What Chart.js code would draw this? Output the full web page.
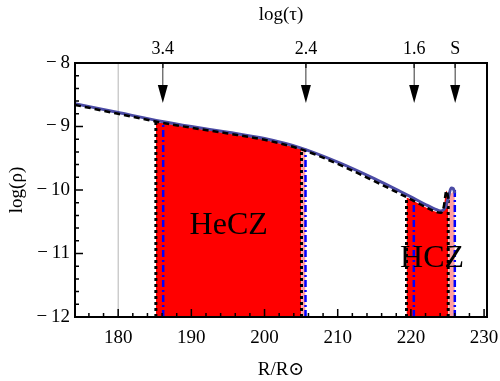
<!DOCTYPE html>
<html>
<head>
<meta charset="utf-8">
<script src="https://cdn.jsdelivr.net/npm/chart.js@4/dist/chart.umd.min.js"></script>
<style>
  html, body { margin: 0; padding: 0; background: #fff; }
</style>
</head>
<body>
<canvas id="chart" width="500" height="381"></canvas>
<script>
// axis ticks
const xTicks = [180, 190, 200, 210, 220, 230];
const yTicks = [-12, -11, -10, -9, -8];
const tauPos = [186.1, 205.65, 220.45, 226.05];
const tauLabels = ['3.4', '2.4', '1.6', 'S'];

// density profile (blue = solid, black = dashed)
const blueX = [174.1, 180, 186, 190, 195, 200, 205, 210, 215, 218.5, 220.2, 222, 223.3, 224.1, 224.7, 225.1, 225.5, 225.8, 226.0];
const blueY = [-8.64, -8.78, -8.92, -9.00, -9.09, -9.19, -9.34, -9.56, -9.82, -10.02, -10.12, -10.23, -10.30, -10.33, -10.27, -10.13, -9.97, -9.98, -10.05];
const dashX = [174.1, 180, 186, 190, 195, 200, 205, 210, 215, 218.5, 220.2, 222, 223.3, 224.1, 224.5, 224.85, 225.15];
const dashY = [-8.66, -8.80, -8.94, -9.02, -9.11, -9.21, -9.36, -9.59, -9.86, -10.06, -10.16, -10.27, -10.34, -10.36, -10.26, -10.01, -10.15];

// convective zones (red areas)
const heczX = [185.15, 190, 195, 200, 205.05];
const heczTop = [-8.93, -9.02, -9.11, -9.21, -9.36];
const hczX = [219.4, 220.2, 222, 223.3, 224.1, 224.5, 224.85, 225.1];
const hczTop = [-10.12, -10.16, -10.27, -10.34, -10.36, -10.26, -10.01, -10.12];
const edgeX = [[205.05, 205.6], [225.1, 226.0]];
const edgeTop = [[-9.36, -9.35], [-10.1, -10.0]];

// boundaries
const dotX = [185.15, 205.05, 219.4, 225.1];
const dotTop = [-8.92, -9.37, -10.12, -10.05];
const dashDotX = [186.15, 205.6, 220.4, 226.0];
const dashDotTop = [-8.93, -9.35, -10.14, -9.97];
const refLineX = 180;

const zoneLabels = [
  { text: 'HeCZ', x: 195.1, y: -10.70 },
  { text: 'HCZ', x: 222.9, y: -11.21 },
];

const FONT = "'Liberation Serif', 'DejaVu Serif', serif";
Chart.defaults.font.family = FONT;
Chart.defaults.color = '#000';

const pts = (xs, ys) => xs.map((x, i) => ({ x, y: ys[i] }));

const datasets = [
  {
    data: pts(dashX, dashY),
    borderColor: '#000', borderWidth: 2.5, borderDash: [6, 4],
    cubicInterpolationMode: 'monotone', order: 0,
  },
  {
    data: pts(blueX, blueY),
    borderColor: 'rgb(75, 75, 165)', borderWidth: 3,
    cubicInterpolationMode: 'monotone', order: 1,
  },
  {
    data: pts(heczX, heczTop),
    borderWidth: 0, borderColor: 'transparent', backgroundColor: '#ff0000',
    fill: 'start', cubicInterpolationMode: 'monotone', order: 10,
  },
  {
    data: pts(hczX, hczTop),
    borderWidth: 0, borderColor: 'transparent', backgroundColor: '#ff0000',
    fill: 'start', cubicInterpolationMode: 'monotone', order: 10,
  },
];

edgeX.forEach((xs, i) => {
  datasets.push({
    data: pts(xs, edgeTop[i]),
    borderWidth: 0, borderColor: 'transparent', backgroundColor: 'rgb(255, 160, 160)',
    fill: 'start', order: 11,
  });
});

datasets.push({
  data: [{ x: refLineX, y: -12 }, { x: refLineX, y: -8 }],
  borderColor: '#b4b4b4', borderWidth: 1, order: 12,
});

dotX.forEach((x, i) => {
  datasets.push({
    data: [{ x, y: -12 }, { x, y: dotTop[i] }],
    borderColor: '#000', borderWidth: 3, borderDash: [3, 3], order: 3,
  });
});

dashDotX.forEach((x, i) => {
  datasets.push({
    data: [{ x, y: -12 }, { x, y: dashDotTop[i] }],
    borderColor: '#0000ff', borderWidth: 2.5, borderDash: [7, 3, 2, 3], order: 2,
  });
});

// frame, inner ticks, arrows and zone names
const decorations = {
  id: 'decorations',
  afterDraw(chart) {
    const { ctx, chartArea: a, scales } = chart;
    const xs = scales.x, ys = scales.y, x2 = scales.x2;
    ctx.save();

    // inside ticks
    ctx.strokeStyle = '#000';
    ctx.lineWidth = 1.5;
    ctx.beginPath();
    for (let r = Math.ceil(xs.min); r <= xs.max; r++) {
      if (r % 2 !== 0) continue;
      const px = xs.getPixelForValue(r);
      const len = r % 10 === 0 ? 8 : 4;
      ctx.moveTo(px, a.bottom);
      ctx.lineTo(px, a.bottom - len);
    }
    for (let k = -60; k <= -40; k++) {
      const py = ys.getPixelForValue(k / 5);
      const len = k % 5 === 0 ? 8 : 4;
      ctx.moveTo(a.left, py);
      ctx.lineTo(a.left + len, py);
    }
    tauPos.forEach((v) => {
      const px = x2.getPixelForValue(v);
      ctx.moveTo(px, a.top);
      ctx.lineTo(px, a.top + 5);
    });
    ctx.stroke();

    // arrows
    const tipY = ys.getPixelForValue(-8.63);
    tauPos.forEach((v) => {
      const px = x2.getPixelForValue(v);
      ctx.strokeStyle = '#333';
      ctx.lineWidth = 1;
      ctx.beginPath();
      ctx.moveTo(px, a.top);
      ctx.lineTo(px, tipY - 12);
      ctx.stroke();
      ctx.fillStyle = '#000';
      ctx.beginPath();
      ctx.moveTo(px - 5, tipY - 18);
      ctx.lineTo(px + 5, tipY - 18);
      ctx.lineTo(px, tipY);
      ctx.closePath();
      ctx.fill();
    });

    // zone names
    ctx.fillStyle = '#000';
    ctx.font = '32px ' + FONT;
    ctx.textAlign = 'center';
    ctx.textBaseline = 'alphabetic';
    zoneLabels.forEach((l) => {
      ctx.fillText(l.text, xs.getPixelForValue(l.x), ys.getPixelForValue(l.y));
    });

    // frame
    ctx.strokeStyle = '#000';
    ctx.lineWidth = 2;
    ctx.strokeRect(a.left, a.top, a.right - a.left, a.bottom - a.top);
    ctx.restore();
  },
};

const tickFont = { family: FONT, size: 19 };
const topFont = { family: FONT, size: 18 };

new Chart(document.getElementById('chart'), {
  type: 'line',
  data: { datasets },
  options: {
    responsive: false,
    animation: false,
    devicePixelRatio: 1,
    layout: { padding: { right: 13, left: 0, top: 0, bottom: 0 } },
    elements: { point: { radius: 0 }, line: { fill: false } },
    plugins: { legend: { display: false }, tooltip: { enabled: false } },
    scales: {
      x: {
        type: 'linear', position: 'bottom', min: 174.1, max: 230.4,
        afterBuildTicks: (s) => { s.ticks = xTicks.map((v) => ({ value: v })); },
        afterFit: (s) => { s.height = 64; s.paddingLeft = 0; s.paddingRight = 0; },
        grid: { display: false, drawTicks: false },
        border: { display: false },
        ticks: { font: tickFont, padding: 10, maxRotation: 0, autoSkip: false },
        title: { display: true, text: 'R/R⊙', font: tickFont, padding: { top: 0, bottom: 0 } },
      },
      x2: {
        type: 'linear', position: 'top', min: 174.1, max: 230.4,
        afterBuildTicks: (s) => { s.ticks = tauPos.map((v) => ({ value: v })); },
        afterFit: (s) => { s.height = 63; s.paddingLeft = 0; s.paddingRight = 0; },
        grid: { display: false, drawTicks: false },
        border: { display: false },
        ticks: { font: topFont, padding: 3, maxRotation: 0, autoSkip: false,
          callback: (v, i) => tauLabels[i] },
        title: { display: true, text: 'log(τ)', font: tickFont, padding: { top: 4, bottom: 0 } },
      },
      y: {
        type: 'linear', position: 'left', min: -12, max: -8,
        afterBuildTicks: (s) => { s.ticks = yTicks.map((v) => ({ value: v })); },
        afterFit: (s) => { s.width = 75; },
        grid: { display: false, drawTicks: false },
        border: { display: false },
        ticks: { font: tickFont, padding: 5, callback: (v) => '\u2212\u2009' + Math.abs(v) },
        title: { display: true, text: 'log(ρ)', font: tickFont, padding: { top: 6, bottom: 0 } },
      },
    },
  },
  plugins: [decorations],
});
</script>
</body>
</html>
